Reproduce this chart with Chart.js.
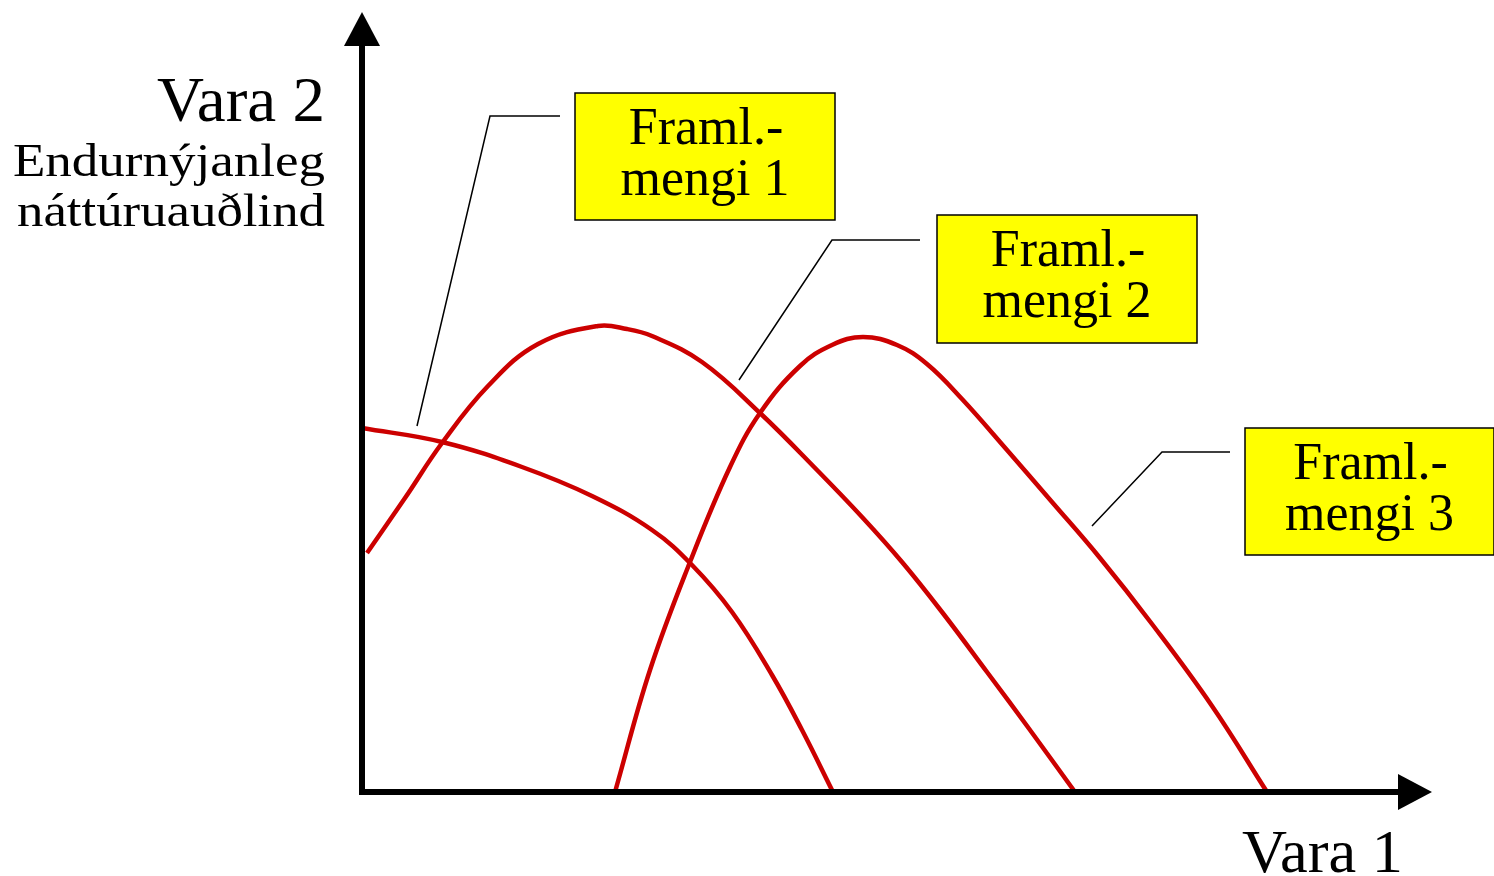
<!DOCTYPE html>
<html>
<head>
  <meta charset="utf-8">
  <title>Framleiðslumengi</title>
  <script src="https://cdn.jsdelivr.net/npm/chart.js"></script>
  <style>
    body {
      margin: 0;
      background-color: #fff;
    }
    #wrap {
      width: 1494px;
      height: 876px;
    }
  </style>
</head>
<body>
  <div id="wrap"><canvas id="ppfChart"></canvas></div>

  <script>
    // curve points (x = Vara 1, y = Vara 2)
    const mengi1X = [0, 80, 160, 230, 290, 330, 370, 410, 440, 471];
    const mengi1Y = [364, 350, 325, 296, 262, 227, 180, 117, 62, 0];

    const mengi2X = [5, 43, 80, 126, 176, 236, 265, 290, 340, 398, 455, 500, 540, 580, 625, 668, 713];
    const mengi2Y = [239, 294, 349, 406, 448, 466, 463, 456, 430, 379, 322, 275, 230, 180, 120, 62, 0];

    const mengi3X = [253, 288, 328, 368, 398, 438, 470, 501, 535, 565, 600, 645, 690, 738, 790, 850, 905];
    const mengi3Y = [0, 122, 230, 325, 379, 426, 447, 455, 447, 428, 393, 342, 290, 234, 168, 86, 0];

    // leader lines from the label boxes to the curves
    const leader1X = [198, 128, 55];
    const leader1Y = [676, 676, 366];
    const leader2X = [558, 470, 377];
    const leader2Y = [552, 552, 412];
    const leader3X = [868, 800, 730];
    const leader3Y = [340, 340, 266];

    const boxLabels = [
      ['Framl.-', 'mengi 1'],
      ['Framl.-', 'mengi 2'],
      ['Framl.-', 'mengi 3']
    ];
    const yAxisTitle = ['Vara 2', 'Endurnýjanleg', 'náttúruauðlind'];
    const xAxisTitle = 'Vara 1';

    // where the boxes sit, in chart units (left, top, right, bottom)
    const boxPlaces = [
      [213, 699, 473, 572],
      [575, 577, 835, 449],
      [883, 364, 1132, 237]
    ];

    function toPoints(xs, ys) {
      return xs.map((x, i) => ({ x: x, y: ys[i] }));
    }

    const RED = '#cc0000';
    const FONT = '"Liberation Serif", "Times New Roman", serif';

    // right-aligned text stretched to the width it has in the picture
    function fitText(ctx, text, right, baseline, size, width) {
      ctx.font = size + 'px ' + FONT;
      const w = ctx.measureText(text).width;
      const sx = width / w;
      ctx.save();
      ctx.translate(right, baseline);
      ctx.scale(sx, 1);
      ctx.textAlign = 'right';
      ctx.textBaseline = 'alphabetic';
      ctx.fillText(text, 0, 0);
      ctx.restore();
    }

    const drawing = {
      id: 'drawing',
      afterDatasetsDraw(chart) {
        const ctx = chart.ctx;
        const xs = chart.scales.x;
        const ys = chart.scales.y;
        const x0 = xs.getPixelForValue(0);
        const y0 = ys.getPixelForValue(0);
        const xEnd = xs.getPixelForValue(xs.max);
        const yEnd = ys.getPixelForValue(ys.max);

        ctx.save();
        // axes
        ctx.strokeStyle = '#000';
        ctx.fillStyle = '#000';
        ctx.lineWidth = 6;
        ctx.lineCap = 'butt';
        ctx.beginPath();
        ctx.moveTo(x0, y0 + 3);
        ctx.lineTo(x0, yEnd + 30);
        ctx.moveTo(x0 - 3, y0);
        ctx.lineTo(xEnd - 30, y0);
        ctx.stroke();

        ctx.beginPath();
        ctx.moveTo(x0, yEnd);
        ctx.lineTo(x0 - 18, yEnd + 34);
        ctx.lineTo(x0 + 18, yEnd + 34);
        ctx.closePath();
        ctx.fill();

        ctx.beginPath();
        ctx.moveTo(xEnd, y0);
        ctx.lineTo(xEnd - 34, y0 - 18);
        ctx.lineTo(xEnd - 34, y0 + 18);
        ctx.closePath();
        ctx.fill();

        // axis titles
        fitText(ctx, yAxisTitle[0], x0 - 37, 121, 64, 168);
        fitText(ctx, yAxisTitle[1], x0 - 37, 176, 47, 312);
        fitText(ctx, yAxisTitle[2], x0 - 37, 226, 47, 308);
        fitText(ctx, xAxisTitle, xEnd - 29, 872, 61, 161);

        // label boxes
        boxPlaces.forEach((b, i) => {
          const l = xs.getPixelForValue(b[0]);
          const t = ys.getPixelForValue(b[1]);
          const r = xs.getPixelForValue(b[2]);
          const btm = ys.getPixelForValue(b[3]);
          ctx.fillStyle = '#ffff00';
          ctx.fillRect(l, t, r - l, btm - t);
          ctx.strokeStyle = '#000';
          ctx.lineWidth = 1.5;
          ctx.strokeRect(l, t, r - l, btm - t);
          ctx.fillStyle = '#000';
          ctx.font = '52px ' + FONT;
          ctx.textAlign = 'center';
          ctx.textBaseline = 'alphabetic';
          const cx = (l + r) / 2;
          const cy = (t + btm) / 2;
          ctx.fillText(boxLabels[i][0], cx + 1, cy - 13);
          ctx.fillText(boxLabels[i][1], cx, cy + 38);
        });
        ctx.restore();
      }
    };

    function curve(xs, ys) {
      return {
        data: toPoints(xs, ys),
        borderColor: RED,
        borderWidth: 4.5,
        pointRadius: 0,
        fill: false,
        tension: 0.4
      };
    }

    function leader(xs, ys) {
      return {
        data: toPoints(xs, ys),
        borderColor: '#000',
        borderWidth: 1.5,
        pointRadius: 0,
        fill: false,
        tension: 0
      };
    }

    const ctx = document.getElementById('ppfChart').getContext('2d');
    new Chart(ctx, {
      type: 'scatter',
      data: {
        datasets: [
          curve(mengi1X, mengi1Y),
          curve(mengi2X, mengi2Y),
          curve(mengi3X, mengi3Y),
          leader(leader1X, leader1Y),
          leader(leader2X, leader2Y),
          leader(leader3X, leader3Y)
        ]
      },
      options: {
        responsive: true,
        maintainAspectRatio: false,
        animation: false,
        showLine: true,
        layout: {
          padding: { left: 362, right: 62, top: 12, bottom: 84 }
        },
        scales: {
          x: { type: 'linear', min: 0, max: 1070, display: false },
          y: { type: 'linear', min: 0, max: 780, display: false }
        },
        plugins: {
          legend: { display: false },
          tooltip: { enabled: false }
        }
      },
      plugins: [drawing]
    });
  </script>
</body>
</html>
